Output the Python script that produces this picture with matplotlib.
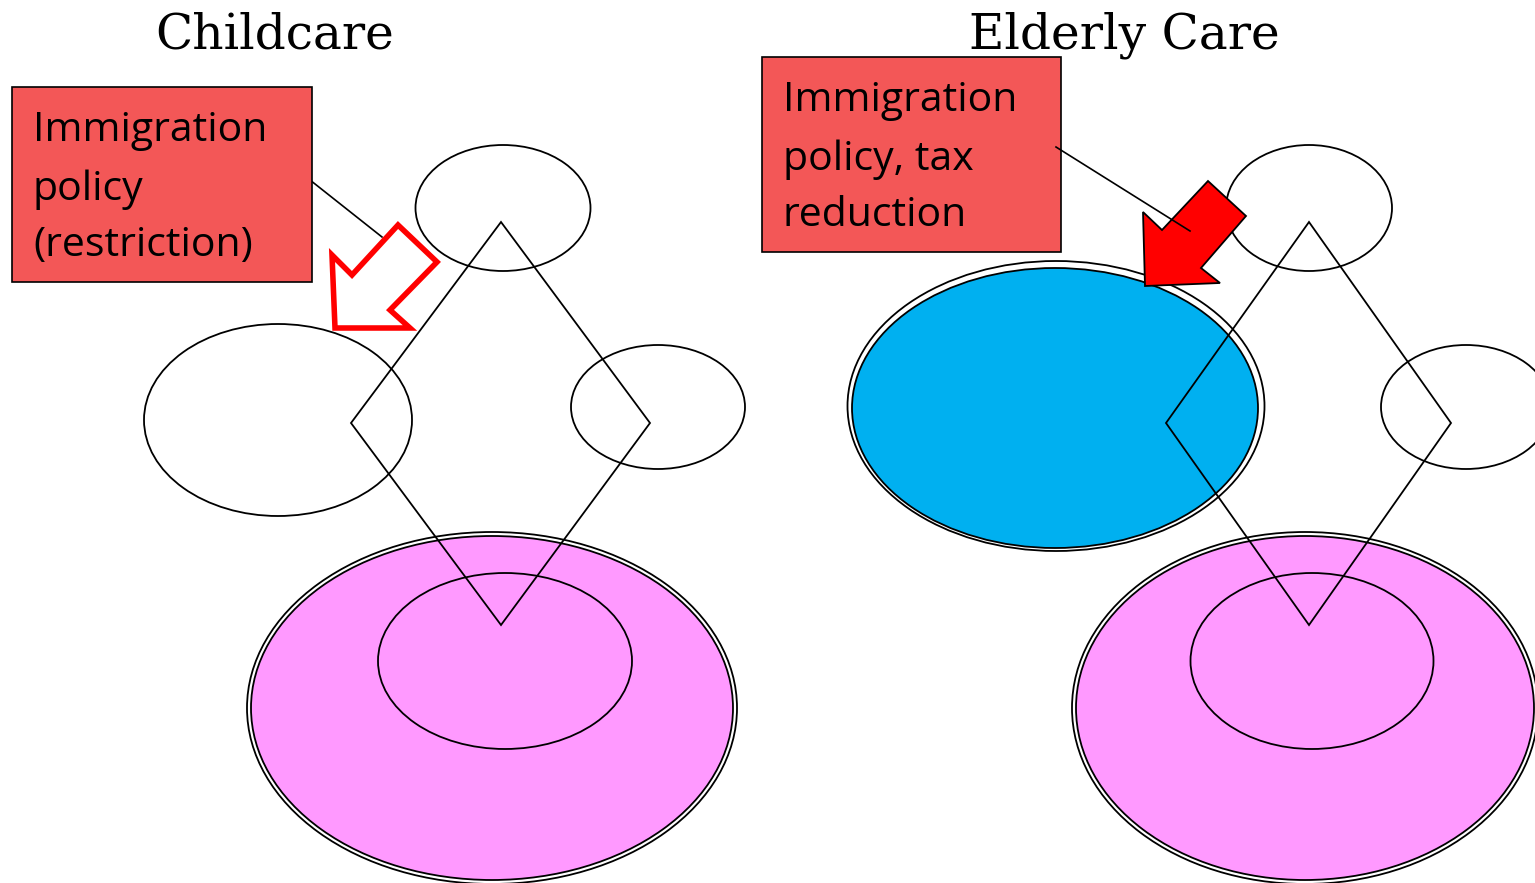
import matplotlib
matplotlib.use('Agg')
from matplotlib import pyplot as plt
from matplotlib.patches import Ellipse, Polygon, Rectangle

# panel texts
titles = ['Childcare', 'Elderly Care']
title_x = [275, 1124]
box_lines = [['Immigration', 'policy', '(restriction)'],
             ['Immigration', 'policy, tax', 'reduction']]

# layout in pixel units (x right, y down)
box_rects = [(12, 87, 300, 195), (762, 57, 299, 195)]
box_text_y = [[131, 190, 246], [101, 160, 216]]
connectors = [[(310, 180), (382, 237)], [(1056, 147), (1190, 231)]]
arrows = [[(335, 328), (332, 255), (352, 275), (398, 225), (437, 262), (390, 310), (410, 328)],
          [(1145, 286), (1143, 212), (1162, 230), (1208, 181), (1246, 216), (1201, 268), (1220, 283)]]

# shapes, one entry per panel: (cx, cy, width, height)
top_ells = [(503, 208, 175, 126), (1309, 208, 166, 126)]
right_ells = [(658, 407, 174, 124), (1466, 407, 170, 124)]
diamonds = [[(501, 222), (650, 423), (501, 625), (351, 423)],
            [(1309, 222), (1451, 423), (1309, 625), (1166, 423)]]
pink_ells = [(492, 708, 482, 344), (1305, 708, 458, 344)]
inner_ells = [(505, 661, 254, 176), (1312, 661, 243, 176)]

left_ell = (278, 420, 268, 192)
blue_ell = (1055, 408, 406, 280)
blue_outer = (1056, 406, 417, 290)

PINK = '#FF99FF'
BLUE = '#00B0F0'
BOXRED = '#F35757'

fig = plt.figure(figsize=(15.35, 8.83), dpi=100)
ax = fig.add_axes([0, 0, 1, 1])
ax.set_xlim(0, 1535)
ax.set_ylim(883, 0)
ax.axis('off')


def ell(c, fc='none', lw=1.3, z=2, grow=0):
    x, y, w, h = c
    ax.add_patch(Ellipse((x, y), w + grow, h + grow, fc=fc, ec='black', lw=lw, zorder=z))


for i in range(2):
    # big pink ellipse with double outline
    ell(pink_ells[i], fc='none', z=1, grow=8)
    ell(pink_ells[i], fc=PINK, z=1.1)
    ell(inner_ells[i], z=1.2)
    ell(top_ells[i], z=2)
    ell(right_ells[i], z=2)
    ax.add_patch(Polygon(diamonds[i], closed=True, fc='none', ec='black', lw=1.3, zorder=4))

    ax.text(title_x[i], 35, titles[i], family='DejaVu Serif', fontsize=35,
            ha='center', va='center', zorder=6)

    bx, by, bw, bh = box_rects[i]
    ax.add_patch(Rectangle((bx, by), bw, bh, fc=BOXRED, ec='black', lw=1.2, zorder=5))
    for line, ty in zip(box_lines[i], box_text_y[i]):
        ax.text(bx + 21, ty, line, family='Open Sans', fontsize=29.5,
                ha='left', va='center', zorder=6)

# left: plain ellipse
ell(left_ell, z=2)
# right: blue ellipse, double outline
ell(blue_outer, z=2)
ell(blue_ell, fc=BLUE, z=2.1)

# arrows
ax.add_patch(Polygon(arrows[0], closed=True, fc='white', ec='#FF0000', lw=4,
                     joinstyle='miter', zorder=5))
ax.add_patch(Polygon(arrows[1], closed=True, fc='#FF0000', ec='black', lw=1.3,
                     joinstyle='miter', zorder=5))

# connector lines
ax.plot(*zip(*connectors[0]), color='black', lw=1.2, zorder=4.5)
ax.plot(*zip(*connectors[1]), color='black', lw=1.2, zorder=5.5)

fig.savefig('out.png', dpi=100)
